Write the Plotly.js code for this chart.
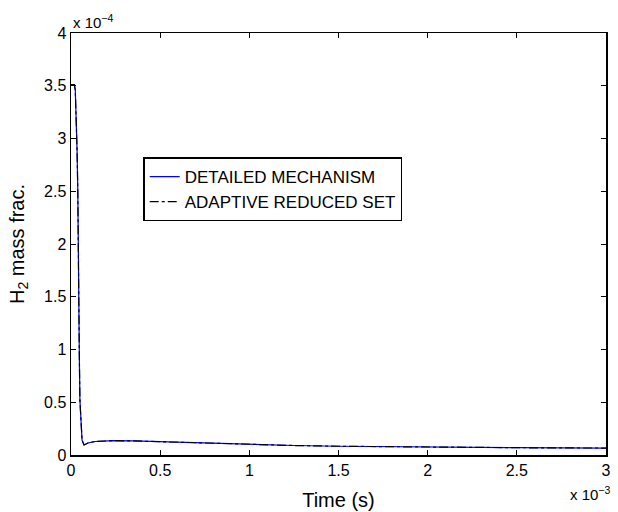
<!DOCTYPE html>
<html>
<head>
<meta charset="utf-8">
<script src="https://cdn.plot.ly/plotly-3.0.1.min.js"></script>
<style>html,body{margin:0;padding:0;background:#fff;}#chart{width:618px;height:512px;}</style>
</head>
<body>
<div id="chart"></div>
<script>
// time in units of 1e-3 s, H2 mass fraction in units of 1e-4
const timeMs = [0, 0.0185, 0.024, 0.028, 0.034, 0.038, 0.041, 0.043, 0.047, 0.050, 0.056, 0.062, 0.073, 0.095, 0.135, 0.236, 0.35, 0.5, 0.75, 1.0, 1.25, 1.5, 1.75, 2.0, 2.25, 2.5, 2.75, 3.0];
const detailed = [3.51, 3.51, 3.46, 3.27, 2.89, 2.51, 1.75, 1.28, 0.90, 0.52, 0.28, 0.14, 0.095, 0.114, 0.128, 0.136, 0.133, 0.125, 0.112, 0.100, 0.090, 0.083, 0.078, 0.074, 0.071, 0.069, 0.067, 0.066];
const reduced = [3.51, 3.51, 3.46, 3.27, 2.89, 2.51, 1.75, 1.28, 0.90, 0.52, 0.28, 0.14, 0.095, 0.114, 0.128, 0.136, 0.133, 0.125, 0.112, 0.100, 0.090, 0.083, 0.078, 0.074, 0.071, 0.069, 0.067, 0.066];
const xTicks = [0, 0.5, 1, 1.5, 2, 2.5, 3];
const xTickText = ['0', '0.5', '1', '1.5', '2', '2.5', '3'];
const yTicks = [0, 0.5, 1, 1.5, 2, 2.5, 3, 3.5, 4];
const yTickText = ['0', '0.5', '1', '1.5', '2', '2.5', '3', '3.5', '4'];
const seriesNames = ['DETAILED MECHANISM', 'ADAPTIVE REDUCED SET'];

const font = 'Liberation Sans, Arial, Helvetica, sans-serif';
const traces = [
  {x: timeMs, y: detailed, name: seriesNames[0], mode: 'lines', line: {color: '#0000ff', width: 1.2}},
  {x: timeMs, y: reduced, name: seriesNames[1], mode: 'lines', line: {color: '#000000', width: 1.2, dash: 'dashdot'}}
];
const axisCommon = {
  showgrid: false, zeroline: false, showline: true, linecolor: '#000', linewidth: 1.5,
  mirror: 'ticks', ticks: 'inside', ticklen: 5, tickcolor: '#000', tickwidth: 1,
  tickfont: {family: font, size: 16, color: '#000'}
};
const layout = {
  width: 618, height: 512,
  margin: {l: 71, r: 12, t: 33, b: 57},
  paper_bgcolor: '#fff', plot_bgcolor: '#fff',
  font: {family: font, color: '#000'},
  xaxis: Object.assign({}, axisCommon, {
    range: [0, 3], tickmode: 'array', tickvals: xTicks, ticktext: xTickText,
    title: {text: 'Time (s)', font: {family: font, size: 20}, standoff: 15}
  }),
  yaxis: Object.assign({}, axisCommon, {
    range: [0, 4], tickmode: 'array', tickvals: yTicks, ticktext: yTickText,
    title: {text: 'H<sub>2</sub> mass frac.', font: {family: font, size: 20}, standoff: 14}
  }),
  showlegend: true,
  legend: {
    x: 0.135, y: 0.705, xanchor: 'left', yanchor: 'top',
    bgcolor: '#fff', bordercolor: '#000', borderwidth: 1.5,
    font: {family: font, size: 17, color: '#000'},
    tracegroupgap: 0, itemwidth: 30
  },
  annotations: [
    {xref: 'paper', yref: 'paper', x: 0, y: 1, xanchor: 'left', yanchor: 'bottom', yshift: 0,
     text: 'x 10<sup>−4</sup>', showarrow: false, font: {family: font, size: 15}},
    {xref: 'paper', yref: 'paper', x: 1, y: 0, xanchor: 'right', yanchor: 'top', yshift: -27, xshift: 6,
     text: 'x 10<sup>−3</sup>', showarrow: false, font: {family: font, size: 15}}
  ]
};
Plotly.newPlot('chart', traces, layout, {staticPlot: true, displayModeBar: false});
</script>
</body>
</html>
